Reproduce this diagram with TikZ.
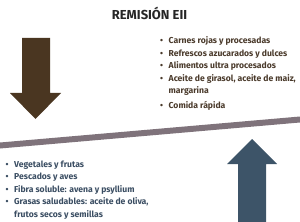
\documentclass[tikz,border=0pt]{standalone}
\usepackage{fontspec}
\setmainfont{Fira Sans}
\usepackage{tikz}
\usetikzlibrary{positioning}
\definecolor{cafeoscuro}{HTML}{4A3621}
\definecolor{azulpizarra}{HTML}{3D5468}
\definecolor{grismalva}{HTML}{7F737B}
\definecolor{textocafe}{HTML}{4A3A2B}
\definecolor{textoazul}{HTML}{3A4D62}
\newcommand{\vinieta}{\makebox[8.5pt][l]{•}}

\begin{document}
\begin{tikzpicture}[x=1pt,y=-1pt,
			titulo/.style={font=\fontsize{13}{15}\selectfont\bfseries,text=black!85,inner sep=0pt},
			lista/.style={align=left,inner sep=0pt,font=\fontsize{8.6}{12.5}\selectfont\bfseries},
			flecha/.style={draw=none}
			]
			\useasboundingbox (0,0) rectangle (300,222);
			% titulo
			\node[titulo,anchor=base] (tit) at (149.5,20) {REMISIÓN EII};
			% balanza
			\fill[grismalva] (0,142.5) -- (300,116.5) -- (300,122.5) -- (0,148.5) -- cycle;
			% flechas
			\fill[flecha,cafeoscuro] (22,38) -- (50,38) -- (50,93) -- (61,93) -- (35.5,119)
				-- (10,93) -- (22,93) -- cycle;
			\fill[flecha,azulpizarra] (252,139) -- (277,164) -- (266,164) -- (266,222)
				-- (238,222) -- (238,164) -- (227,164) -- cycle;
			% listas (base = ultima linea)
			\node[lista,text=textocafe,anchor=base west] (malos) at (160,109) {
				\vinieta Carnes rojas y procesadas\\
				\vinieta Refrescos azucarados y dulces\\
				\vinieta Alimentos ultra procesados\\
				\vinieta Aceite de girasol, aceite de maiz,\\
				\hspace*{8.5pt}margarina\\[3pt]
				\vinieta Comida rápida
			};
			\node[lista,text=textoazul,anchor=base west] (buenos) at (5.5,217) {
				\vinieta Vegetales y frutas\\
				\vinieta Pescados y aves\\
				\vinieta Fibra soluble: avena y psyllium\\
				\vinieta Grasas saludables: aceite de oliva,\\
				\hspace*{8.5pt}frutos secos y semillas
			};
		\end{tikzpicture}
\end{document}
